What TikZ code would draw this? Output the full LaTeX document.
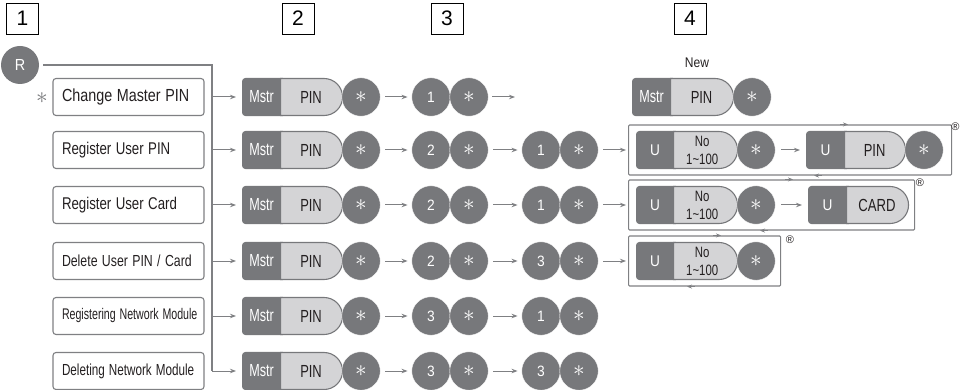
\documentclass[tikz,border=0pt]{standalone}
\usepackage{fontspec}
\setmainfont{Liberation Sans}
\usepackage{graphicx}
\usetikzlibrary{shapes.misc,arrows.meta}
\definecolor{dk}{HTML}{77787B}
\definecolor{lt}{HTML}{D4D4D6}
\definecolor{ln}{HTML}{7F8083}
\definecolor{tx}{HTML}{231F20}
\newcommand\myfs[1]{\fontsize{#1}{#1}\selectfont}
\newcommand\sx[2]{\scalebox{#1}[1]{#2}}
\newcommand\astk{{\myfs{16}\scalebox{1.35}{$\ast$}}}
\begin{document}
\begin{tikzpicture}[x=1pt,y=-1pt,
 numbox/.style={draw=black, line width=0.7, minimum width=32, minimum height=31, inner sep=0, font=\myfs{21}},
 leftbox/.style={draw=ln, line width=1.1, rounded corners=3, minimum width=151, minimum height=37, text width=133, align=left, inner xsep=9, inner ysep=0, font=\myfs{17}, text=tx},
 dkpart/.style={fill=dk, draw=dk, line width=1.1, rounded corners=3, minimum height=37, inner sep=0, text=white, font=\myfs{17.5}, execute at begin node={\kern-5pt}},
 ltpart/.style={rounded rectangle, rounded rectangle west arc=none, fill=lt, draw=dk, line width=1.1, minimum height=37, inner sep=0, font=\myfs{17.5}, text=tx, align=center},
 circ/.style={circle, fill=dk, draw=white, line width=0.4, minimum size=38.5, inner sep=0, text=white, font=\myfs{15}},
 arr/.style={draw=ln, line width=1, -{Stealth[length=6pt,width=4.5pt]}},
 mk/.style={draw=ln, line width=0.8, -{Stealth[length=5pt,width=4pt]}},
 trunk/.style={draw=ln, line width=1.1},
 loopbox/.style={draw=ln, line width=1.1, rounded corners=1, inner sep=0},
 reg/.style={font=\myfs{11}, inner sep=0, text=tx},
]
\useasboundingbox (0,0) rectangle (961,390);

% pill: #1 name, #2 a, #3 b, #4 c, #5 y, #6 dark text, #7 light text
\newcommand\pill[7]{%
 \node[dkpart, minimum width={#3-#2+5}, anchor=west] (#1d) at (#2,#5) {#6};
 \node[ltpart, minimum width={#4-#3}, anchor=west] (#1l) at (#3,#5) {#7};}
\newcommand\Mstr{\sx{0.72}{Mstr}}
\newcommand\PIN{\sx{0.74}{PIN}}
\newcommand\UU{\myfs{15.5}\sx{0.88}{U}}
\newcommand\NoR{\myfs{15}\sx{0.76}{No}\\[0.5pt]\myfs{15}\sx{0.76}{1\textasciitilde 100}}
\newcommand\dg[1]{\sx{0.92}{#1}}

% column numbers
\node[numbox] (n1) at (22.5,18.5) {1};
\node[numbox] (n2) at (298,18.5) {2};
\node[numbox] (n3) at (447,18.5) {3};
\node[numbox] (n4) at (690,18.5) {4};

% R and left boxes
\node[circle, fill=dk, minimum size=38, inner sep=0, text=white, font=\myfs{16}] (R) at (20,65) {\sx{0.9}{R}};
\node[text=dk, inner sep=0] (st) at (42,98) {\astk};
\node[leftbox] (b1) at (128.5,97) {\myfs{17.5}\sx{0.82}{Change Master PIN}};
\node[leftbox] (b2) at (128.5,150) {\sx{0.78}{Register User PIN}};
\node[leftbox] (b3) at (128.5,205) {\sx{0.78}{Register User Card}};
\node[leftbox] (b4) at (128.5,261) {\myfs{16}\sx{0.77}{Delete User PIN / Card}};
\node[leftbox] (b5) at (128.5,316) {\myfs{15.4}\sx{0.69}{Registering Network Module}};
\node[leftbox] (b6) at (128.5,371) {\myfs{16}\sx{0.73}{Deleting Network Module}};

% column 2/3 sequences
\foreach \i/\y in {1/97,2/150,3/205,4/261,5/316,6/371}{
 \pill{p\i}{242}{280}{342}{\y}{\Mstr}{\PIN}
 \node[circ] (s\i) at (361,\y) {\astk};
 \coordinate (t\i) at (212,\y);
}
\node[circ] (a1) at (431,97) {\dg1};  \node[circ] (a1s) at (469,97) {\astk};
\node[circ] (a2) at (431,150) {\dg2}; \node[circ] (a2s) at (469,150) {\astk};
\node[circ] (a3) at (431,205) {\dg2}; \node[circ] (a3s) at (469,205) {\astk};
\node[circ] (a4) at (431,261) {\dg2}; \node[circ] (a4s) at (469,261) {\astk};
\node[circ] (a5) at (431,316) {\dg3}; \node[circ] (a5s) at (469,316) {\astk};
\node[circ] (a6) at (431,371) {\dg3}; \node[circ] (a6s) at (469,371) {\astk};
\node[circ] (c2) at (541,150) {\dg1}; \node[circ] (c2s) at (579,150) {\astk};
\node[circ] (c3) at (541,205) {\dg1}; \node[circ] (c3s) at (579,205) {\astk};
\node[circ] (c4) at (541,261) {\dg3}; \node[circ] (c4s) at (579,261) {\astk};
\node[circ] (c5) at (541,316) {\dg1}; \node[circ] (c5s) at (579,316) {\astk};
\node[circ] (c6) at (541,371) {\dg3}; \node[circ] (c6s) at (579,371) {\astk};
\coordinate (e1) at (515,97);

% trunk
\coordinate (tt) at (212,65);
\draw[trunk, shorten <=4] (R) -- (tt) -- (t6);
\foreach \i in {1,...,6}{
 \draw[arr, shorten >=6] (t\i) -- (p\i d.west);
 \draw[arr, shorten <=5, shorten >=4] (s\i) -- (a\i);
}
\draw[arr, shorten <=4] (a1s) -- (e1);
\foreach \i in {2,...,6}{
 \draw[arr, shorten <=5, shorten >=4] (a\i s) -- (c\i);
}

% column 4
\node[inner sep=0, font=\myfs{14}, text=tx] (new) at (697,63) {\sx{0.86}{New}};
\pill{q1}{632}{670}{733}{97}{\Mstr}{\PIN}
\node[circ] (q1s) at (752,97) {\astk};

\node[loopbox, minimum width=323, minimum height=50, anchor=west] (L2) at (628,150) {};
\node[loopbox, minimum width=286, minimum height=50, anchor=west] (L3) at (628,205) {};
\node[loopbox, minimum width=152, minimum height=50, anchor=west] (L4) at (628,261) {};

\pill{u2}{636}{673}{737}{150}{\UU}{\NoR}
\node[circ] (u2s) at (756,150) {\astk};
\pill{v2}{806}{844}{905}{150}{\UU}{\PIN}
\node[circ] (v2s) at (924,150) {\astk};

\pill{u3}{636}{673}{737}{205}{\UU}{\NoR}
\node[circ] (u3s) at (756,205) {\astk};
\pill{v3}{808}{846}{908}{205}{\UU}{\sx{0.75}{CARD}}

\pill{u4}{636}{673}{737}{261}{\UU}{\NoR}
\node[circ] (u4s) at (756,261) {\astk};

\draw[arr, shorten <=5, shorten >=2] (c2s) -- (L2);
\draw[arr, shorten <=5, shorten >=2] (c3s) -- (L3);
\draw[arr, shorten <=5, shorten >=2] (c4s) -- (L4);
\draw[arr, shorten <=6, shorten >=6] (u2s) -- (v2d);
\draw[arr, shorten <=6, shorten >=6] (u3s) -- (v3d);

% loop direction marks
\draw[mk] ([xshift=212]L2.north west) -- ([xshift=220]L2.north west);
\draw[mk] ([xshift=194]L2.south west) -- ([xshift=186]L2.south west);
\draw[mk] ([xshift=157]L3.north west) -- ([xshift=165]L3.north west);
\draw[mk] ([xshift=140]L3.south west) -- ([xshift=132]L3.south west);
\draw[mk] ([xshift=85]L4.north west) -- ([xshift=93]L4.north west);
\draw[mk] ([xshift=67]L4.south west) -- ([xshift=59]L4.south west);

\node[reg] (r2) at (955.5,127) {\textregistered};
\node[reg] (r3) at (920,183) {\textregistered};
\node[reg] (r4) at (790,240) {\textregistered};
\end{tikzpicture}
\end{document}
